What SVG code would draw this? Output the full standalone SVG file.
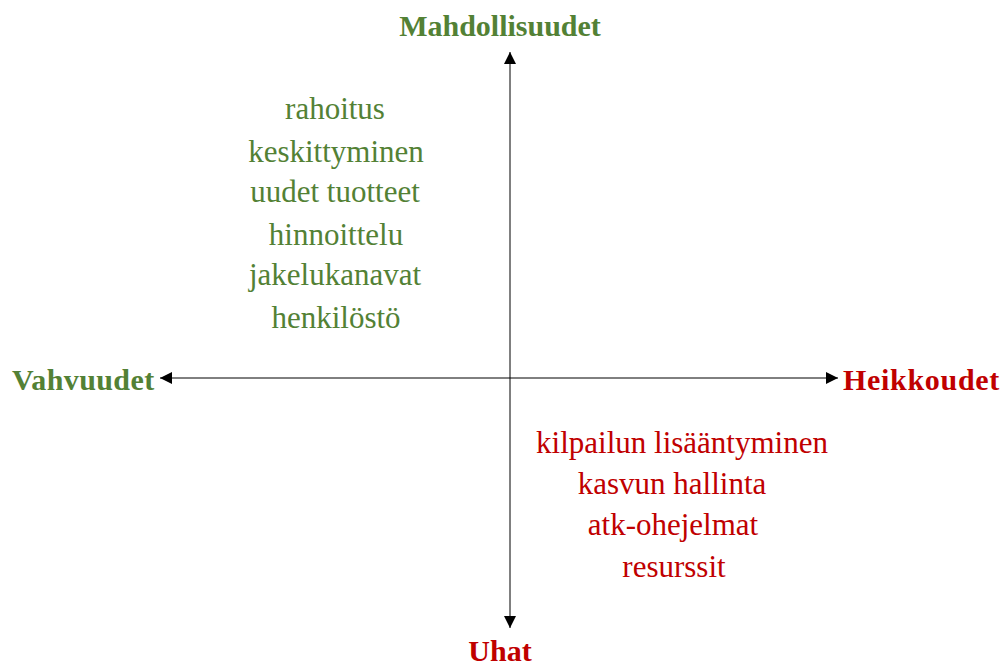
<svg xmlns="http://www.w3.org/2000/svg" width="1003" height="666" viewBox="0 0 1003 666">
  <style>
    .title { font-family: "Liberation Serif", "Times New Roman", serif; font-size: 30px; font-weight: bold; }
    .item { font-family: "Liberation Serif", "Times New Roman", serif; font-size: 31px; text-anchor: middle; }
    .green { fill: #538135; }
    .red { fill: #C00000; }
    .axis { stroke: #000; stroke-width: 1; fill: none; }
  </style>
  <defs>
    <marker id="arrow" viewBox="0 0 10 10" refX="10" refY="5" markerWidth="14" markerHeight="12" markerUnits="userSpaceOnUse" orient="auto">
      <path d="M0,0 L10,5 L0,10 Z" fill="#000"/>
    </marker>
  </defs>
  <rect width="1003" height="666" fill="#fff"/>

  <!-- axes -->
  <g id="connectors">
    <line class="axis" x1="510" y1="378" x2="510" y2="52" marker-end="url(#arrow)"/>
    <line class="axis" x1="510" y1="378" x2="510" y2="628" marker-end="url(#arrow)"/>
    <line class="axis" x1="510" y1="378" x2="160" y2="378" marker-end="url(#arrow)"/>
    <line class="axis" x1="510" y1="378" x2="838" y2="378" marker-end="url(#arrow)"/>
  </g>

  <!-- axis labels -->
  <g id="mahdollisuudet"><text class="title green" x="500" y="36" text-anchor="middle">Mahdollisuudet</text></g>
  <g id="vahvuudet"><text class="title green" x="12" y="390" letter-spacing="0.4">Vahvuudet</text></g>
  <g id="heikkoudet"><text class="title red" x="843" y="390" letter-spacing="0.7">Heikkoudet</text></g>
  <g id="uhat"><text class="title red" x="500" y="661" text-anchor="middle">Uhat</text></g>

  <!-- opportunity list -->
  <g id="opportunities">
    <text class="item green" x="335" y="119">rahoitus</text>
    <text class="item green" x="336" y="162">keskittyminen</text>
    <text class="item green" x="335" y="202">uudet tuotteet</text>
    <text class="item green" x="336" y="245">hinnoittelu</text>
    <text class="item green" x="335" y="285">jakelukanavat</text>
    <text class="item green" x="336" y="328">henkilöstö</text>
  </g>

  <!-- threat list -->
  <g id="threats">
    <text class="item red" x="682" y="453">kilpailun lisääntyminen</text>
    <text class="item red" x="672" y="494">kasvun hallinta</text>
    <text class="item red" x="673" y="535">atk-ohejelmat</text>
    <text class="item red" x="674" y="577">resurssit</text>
  </g>
</svg>
